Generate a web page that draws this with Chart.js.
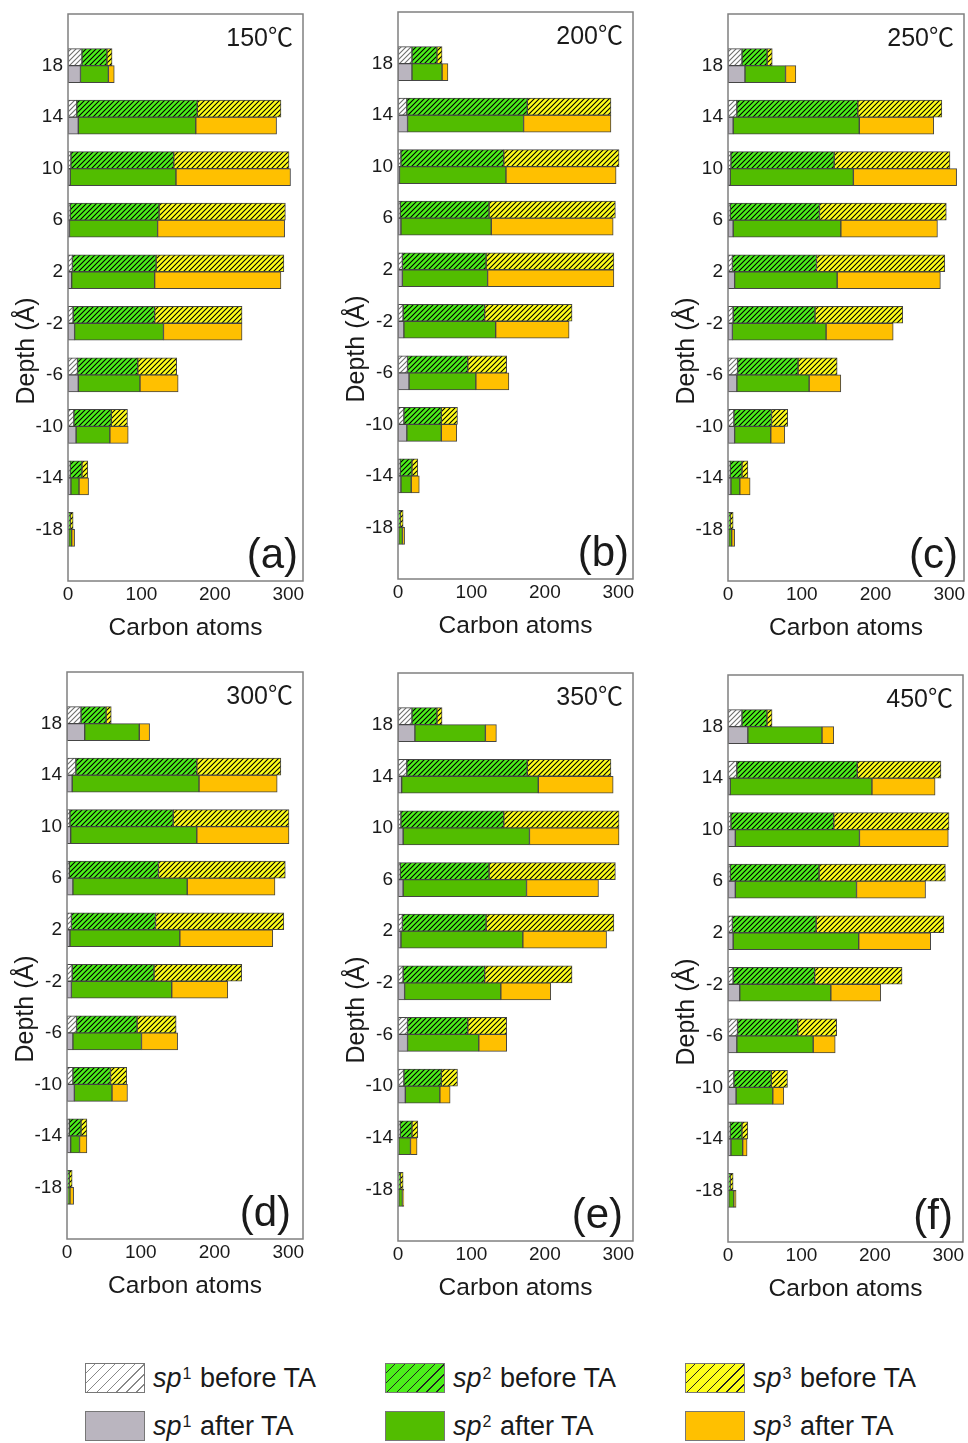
<!DOCTYPE html>
<html>
<head>
<meta charset="utf-8">
<script src="https://cdn.jsdelivr.net/npm/chart.js@4.4.0/dist/chart.umd.min.js"></script>
<style>
  html, body { margin: 0; padding: 0; background: #fff; width: 968px; height: 1443px; overflow: hidden;
    font-family: "Liberation Sans", Arial, sans-serif; color: #1a1a1a; }
  canvas { position: absolute; }
  .leg { position: absolute; height: 30px; display: flex; align-items: center; font-size: 27px; white-space: nowrap; }
  .leg i { font-style: italic; }
  .leg sup { font-size: 16px; position: relative; top: -4px; margin-left: 1px; margin-right: 1px; }
  .sw { width: 58px; height: 28px; border: 1px solid #777; margin-right: 8px; }
</style>
</head>
<body>
<script>
  const FONT = '"Liberation Sans", Arial, sans-serif';

  // depth (Å) of each layer, top to bottom
  const depths = [18, 14, 10, 6, 2, -2, -6, -10, -14, -18];
  const xTicks = [0, 100, 200, 300];
  const temps = ['150℃', '200℃', '250℃', '300℃', '350℃', '450℃'];
  const letters = ['(a)', '(b)', '(c)', '(d)', '(e)', '(f)'];

  // before thermal annealing (same starting film in every panel)
  const sp1Before = [19, 12, 4, 3, 6, 7, 13, 8, 3, 1];
  const sp2Before = [34, 164, 140, 121, 114, 111, 82, 51, 16, 2];
  const sp3Before = [7, 114, 157, 172, 174, 119, 53, 22, 8, 4];

  // after thermal annealing
  const sp1After150 = [17, 14, 3, 2, 5, 9, 14, 11, 4, 1];
  const sp2After150 = [38, 160, 144, 120, 113, 121, 84, 46, 11, 4];
  const sp3After150 = [8, 110, 156, 173, 172, 107, 52, 25, 13, 4];

  const sp1After200 = [19, 13, 2, 4, 6, 8, 15, 12, 4, 1];
  const sp2After200 = [41, 158, 145, 123, 116, 125, 91, 47, 14, 5];
  const sp3After200 = [8, 119, 150, 166, 172, 100, 45, 21, 11, 3];

  const sp1After250 = [23, 7, 3, 7, 9, 6, 12, 9, 4, 1];
  const sp2After250 = [55, 171, 167, 146, 139, 127, 98, 49, 12, 4];
  const sp3After250 = [14, 101, 140, 131, 140, 91, 43, 19, 14, 4];

  const sp1After300 = [24, 7, 5, 8, 4, 6, 8, 10, 5, 1];
  const sp2After300 = [74, 172, 171, 155, 149, 136, 93, 51, 12, 3];
  const sp3After300 = [14, 106, 125, 119, 126, 76, 49, 21, 10, 5];

  const sp1After350 = [23, 5, 7, 7, 4, 9, 13, 10, 1, 1];
  const sp2After350 = [96, 186, 172, 168, 166, 131, 97, 47, 16, 5];
  const sp3After350 = [15, 102, 122, 98, 114, 68, 38, 14, 9, 2];

  const sp1After450 = [27, 3, 10, 10, 7, 16, 12, 11, 4, 1];
  const sp2After450 = [101, 193, 169, 165, 171, 124, 104, 50, 16, 7];
  const sp3After450 = [16, 86, 121, 94, 98, 68, 30, 15, 6, 3];

  const afterSets = [
    [sp1After150, sp2After150, sp3After150],
    [sp1After200, sp2After200, sp3After200],
    [sp1After250, sp2After250, sp3After250],
    [sp1After300, sp2After300, sp3After300],
    [sp1After350, sp2After350, sp3After350],
    [sp1After450, sp2After450, sp3After450]
  ];

  // plot-area box of each panel on the page: left, top, right, bottom, and inset of the letter
  const boxes = [
    { L: 68, T: 14, R: 303, B: 581, lx: 5 },
    { L: 398, T: 12, R: 633, B: 579, lx: 4 },
    { L: 728, T: 14, R: 964, B: 581, lx: 6 },
    { L: 67, T: 672, R: 303, B: 1239, lx: 12 },
    { L: 398, T: 673, R: 633, B: 1241, lx: 10 },
    { L: 728, T: 675, R: 963, B: 1242, lx: 10 }
  ];

  const colors = {
    sp1Before: '#ffffff', sp2Before: '#4cf01a', sp3Before: '#ffff1a',
    sp1After: '#bab5bf', sp2After: '#52bd00', sp3After: '#ffc000'
  };

  function hatch(bg, fg, size) {
    const c = document.createElement('canvas');
    c.width = size; c.height = size;
    const g = c.getContext('2d');
    g.fillStyle = bg;
    g.fillRect(0, 0, size, size);
    g.strokeStyle = fg;
    g.lineWidth = 1.1;
    g.beginPath();
    g.moveTo(0, size); g.lineTo(size, 0);
    g.moveTo(-1, 1); g.lineTo(1, -1);
    g.moveTo(size - 1, size + 1); g.lineTo(size + 1, size - 1);
    g.stroke();
    return g.createPattern(c, 'repeat');
  }

  const hatch1 = hatch(colors.sp1Before, '#6e6e6e', 5);
  const hatch2 = hatch(colors.sp2Before, '#000000', 5);
  const hatch3 = hatch(colors.sp3Before, '#000000', 5);

  function makePanel(idx) {
    const b = boxes[idx];
    const [a1, a2, a3] = afterSets[idx];
    const plotW = b.R - b.L, plotH = b.B - b.T;
    const W = 68 + plotW + 4, H = 14 + plotH + 70;

    const cv = document.createElement('canvas');
    cv.width = W; cv.height = H;
    cv.style.width = W + 'px'; cv.style.height = H + 'px';
    cv.style.left = (b.L - 68) + 'px'; cv.style.top = (b.T - 14) + 'px';
    document.body.appendChild(cv);

    const pts = arr => depths.map((d, i) => ({ x: arr[i], y: d }));
    const ds = (label, arr, stack, bg) => ({ label, data: pts(arr), stack, backgroundColor: bg });

    const decor = {
      id: 'decor',
      afterDraw(chart) {
        const { ctx, chartArea: a } = chart;
        ctx.save();
        ctx.strokeStyle = '#808080';
        ctx.lineWidth = 1.5;
        ctx.strokeRect(a.left, a.top, a.right - a.left, a.bottom - a.top);

        ctx.fillStyle = '#1a1a1a';
        ctx.textBaseline = 'alphabetic';
        ctx.textAlign = 'right';
        ctx.font = '25px ' + FONT + ', "Noto Sans CJK SC"';
        ctx.fillText(temps[idx], a.right - 10, a.top + 32);

        ctx.font = '42px ' + FONT;
        ctx.fillText(letters[idx], a.right - b.lx, a.bottom - 13);

        ctx.textAlign = 'center';
        ctx.font = '24.5px ' + FONT;
        ctx.fillText('Carbon atoms', (a.left + a.right) / 2, a.bottom + 54);

        ctx.font = '25px ' + FONT;
        ctx.translate(34, a.top + 337);
        ctx.rotate(-Math.PI / 2);
        ctx.fillText('Depth (Å)', 0, 0);
        ctx.restore();
      }
    };

    new Chart(cv, {
      type: 'bar',
      data: {
        datasets: [
          ds('sp1 before TA', sp1Before, 'before', hatch1),
          ds('sp2 before TA', sp2Before, 'before', hatch2),
          ds('sp3 before TA', sp3Before, 'before', hatch3),
          ds('sp1 after TA', a1, 'after', colors.sp1After),
          ds('sp2 after TA', a2, 'after', colors.sp2After),
          ds('sp3 after TA', a3, 'after', colors.sp3After)
        ]
      },
      options: {
        indexAxis: 'y',
        responsive: false,
        animation: false,
        devicePixelRatio: 1,
        layout: { padding: { left: 0, top: 14, right: W - 68 - plotW, bottom: 0 } },
        datasets: {
          bar: { barThickness: 17, borderWidth: 1, borderColor: '#454545', borderSkipped: false }
        },
        plugins: { legend: { display: false }, tooltip: { enabled: false } },
        scales: {
          x: {
            type: 'linear', stacked: true, min: 0, max: 320, offset: false,
            grid: { display: false, drawTicks: false },
            border: { display: false },
            ticks: { font: { family: FONT, size: 19 }, color: '#1a1a1a', padding: 2, maxRotation: 0 },
            afterBuildTicks: s => { s.ticks = xTicks.map(v => ({ value: v })); },
            afterFit: s => { s.height = H - 14 - plotH; s.paddingLeft = 0; s.paddingRight = 0; }
          },
          y: {
            type: 'linear', min: -22, max: 22, offset: false,
            grid: { display: false, drawTicks: false },
            border: { display: false },
            ticks: { font: { family: FONT, size: 19 }, color: '#1a1a1a', padding: 5, autoSkip: false },
            afterBuildTicks: s => { s.ticks = depths.slice().sort((p, q) => p - q).map(v => ({ value: v })); },
            afterFit: s => { s.width = 68; s.paddingTop = 0; s.paddingBottom = 0; }
          }
        }
      },
      plugins: [decor]
    });
  }

  for (let i = 0; i < 6; i++) makePanel(i);

  // legend
  const legendItems = [
    { n: 1, t: 'before TA', bg: 'repeating-linear-gradient(135deg, #fff 0 6px, #888 6px 7px)', x: 85, y: 1363 },
    { n: 1, t: 'after TA', bg: colors.sp1After, x: 85, y: 1411 },
    { n: 2, t: 'before TA', bg: 'repeating-linear-gradient(135deg, ' + colors.sp2Before + ' 0 6px, #222 6px 7px)', x: 385, y: 1363 },
    { n: 2, t: 'after TA', bg: colors.sp2After, x: 385, y: 1411 },
    { n: 3, t: 'before TA', bg: 'repeating-linear-gradient(135deg, ' + colors.sp3Before + ' 0 6px, #222 6px 7px)', x: 685, y: 1363 },
    { n: 3, t: 'after TA', bg: colors.sp3After, x: 685, y: 1411 }
  ];
  legendItems.forEach(it => {
    const d = document.createElement('div');
    d.className = 'leg';
    d.style.left = it.x + 'px';
    d.style.top = it.y + 'px';
    d.innerHTML = '<div class="sw" style="background:' + it.bg + '"></div><i>sp</i><sup>' + it.n + '</sup>&nbsp;' + it.t;
    document.body.appendChild(d);
  });
</script>
</body>
</html>
